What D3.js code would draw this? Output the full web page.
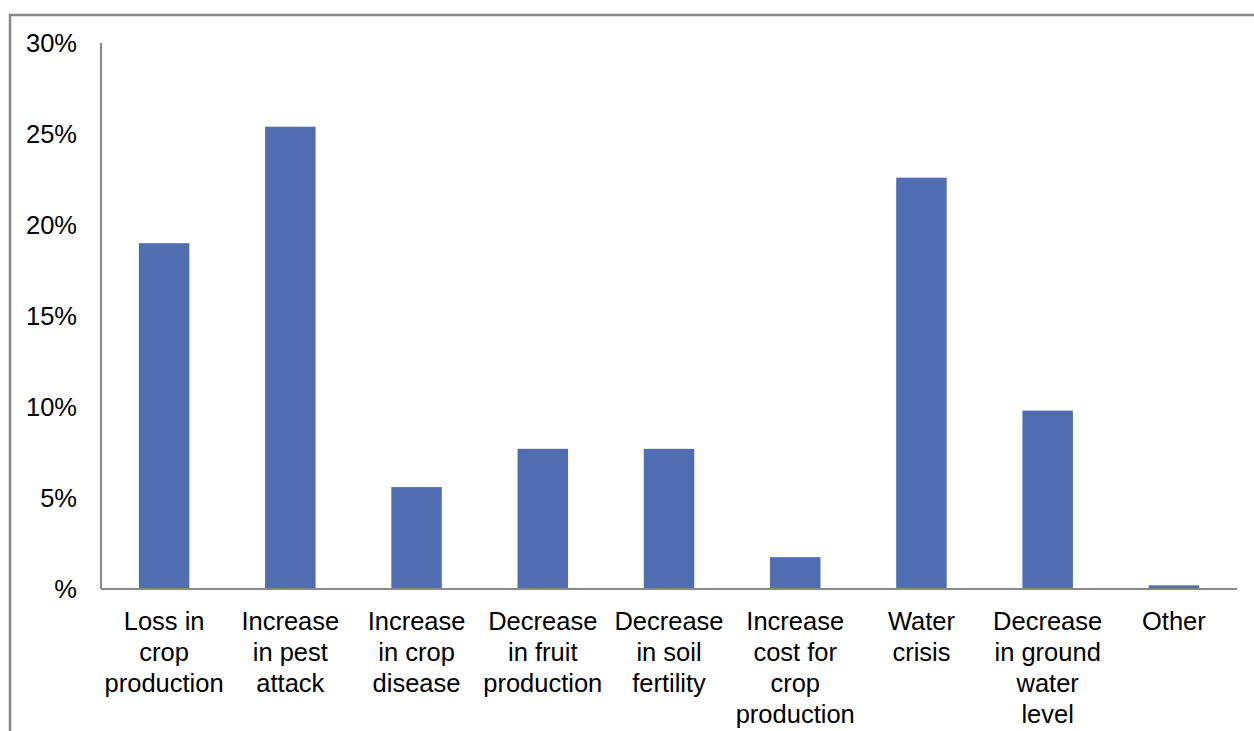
<!DOCTYPE html>
<html>
<head>
<meta charset="utf-8">
<script src="https://cdn.jsdelivr.net/npm/d3@7"></script>
<style>
html,body{margin:0;padding:0;background:#fff;}
svg{display:block;}
text{font-family:"Liberation Sans",Arial,sans-serif;fill:#000;}
</style>
</head>
<body>
<svg id="chart" width="1254" height="731"></svg>
<script>
const categories = [
  ["Loss in","crop","production"],
  ["Increase","in pest","attack"],
  ["Increase","in crop","disease"],
  ["Decrease","in fruit","production"],
  ["Decrease","in soil","fertility"],
  ["Increase","cost for","crop","production"],
  ["Water","crisis"],
  ["Decrease","in ground","water","level"],
  ["Other"]
];
const values = [19.0, 25.4, 5.6, 7.7, 7.7, 1.75, 22.6, 9.8, 0.2];
const tickValues = [0, 5, 10, 15, 20, 25, 30];
const tickLabels = ["%", "5%", "10%", "15%", "20%", "25%", "30%"];

const svg = d3.select("#chart");
const mLeft = 101, mRight = 1237, mTop = 43, mBottom = 589;

// outer frame
svg.append("line").attr("x1", 9).attr("x2", 1254).attr("y1", 15).attr("y2", 15)
  .attr("stroke", "#888").attr("stroke-width", 2.5);
svg.append("line").attr("x1", 10).attr("x2", 10).attr("y1", 14).attr("y2", 731)
  .attr("stroke", "#888").attr("stroke-width", 2.5);

const x = d3.scaleBand().domain(d3.range(categories.length)).range([mLeft, mRight]).paddingInner(0.6).paddingOuter(0.3);
const y = d3.scaleLinear().domain([0, 30]).range([mBottom, mTop]);

svg.append("g").selectAll("rect").data(values).join("rect")
  .attr("x", (d, i) => x(i))
  .attr("width", x.bandwidth())
  .attr("y", d => y(d))
  .attr("height", d => y(0) - y(d))
  .attr("fill", "#4f6db0");

// y axis line
svg.append("line").attr("x1", mLeft).attr("x2", mLeft).attr("y1", mTop).attr("y2", mBottom)
  .attr("stroke", "#888").attr("stroke-width", 2);
// x axis line
svg.append("line").attr("x1", mLeft).attr("x2", mRight).attr("y1", mBottom).attr("y2", mBottom)
  .attr("stroke", "#888").attr("stroke-width", 2);

// y tick labels
svg.append("g").selectAll("text").data(tickValues).join("text")
  .attr("x", 77)
  .attr("y", d => y(d))
  .attr("dy", "0.36em")
  .attr("text-anchor", "end")
  .attr("font-size", 25.5)
  .text((d, i) => tickLabels[i]);

// category labels
const lab = svg.append("g").selectAll("text").data(categories).join("text")
  .attr("text-anchor", "middle")
  .attr("font-size", 25.5)
  .attr("x", (d, i) => x(i) + x.bandwidth() / 2)
  .attr("y", mBottom + 41);
lab.each(function(d, i) {
  const t = d3.select(this);
  d.forEach((line, j) => {
    t.append("tspan").attr("x", x(i) + x.bandwidth() / 2).attr("dy", j === 0 ? 0 : 31).text(line);
  });
});
</script>
</body>
</html>
